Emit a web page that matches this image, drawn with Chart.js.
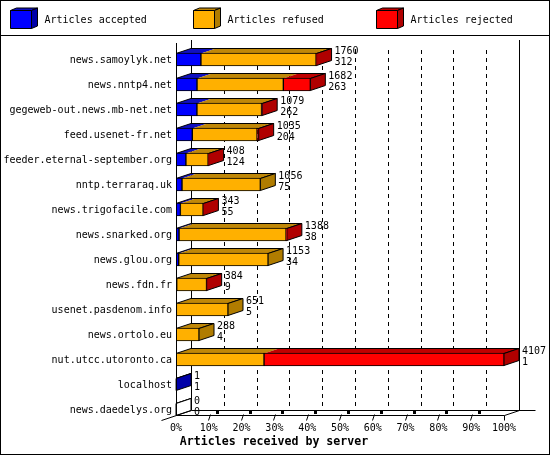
<!DOCTYPE html>
<html>
<head>
<meta charset="utf-8">
<title>Articles received by server</title>
<script src="https://cdn.jsdelivr.net/npm/chart.js"></script>
<style>
  html, body { margin: 0; padding: 0; background: #fff; }
  canvas { display: block; }
</style>
</head>
<body>
<canvas id="chart" width="550" height="455"></canvas>
<script>
const servers = [
  "news.samoylyk.net", "news.nntp4.net", "gegeweb-out.news.mb-net.net", "feed.usenet-fr.net",
  "feeder.eternal-september.org", "nntp.terraraq.uk", "news.trigofacile.com", "news.snarked.org",
  "news.glou.org", "news.fdn.fr", "usenet.pasdenom.info", "news.ortolo.eu",
  "nut.utcc.utoronto.ca", "localhost", "news.daedelys.org"
];
const accepted = [312, 263, 262, 204, 124, 75, 55, 38, 34, 9, 5, 4, 1, 1, 0];
const refused = [1442, 1081, 809, 811, 278, 981, 284, 1340, 1119, 373, 646, 284, 1101, 0, 0];
const rejected = [6, 338, 8, 20, 6, 0, 4, 10, 0, 2, 0, 0, 3005, 0, 0];
const percentLabels = ["0%", "10%", "20%", "30%", "40%", "50%", "60%", "70%", "80%", "90%", "100%"];
const axisMax = 4107;

const seriesNames = ["Articles accepted", "Articles refused", "Articles rejected"];
const front = ["#0000ff", "#ffb000", "#ff0000"];
const top3d = ["#1010c0", "#c08808", "#c00000"];
const side3d = ["#0000a8", "#b07c00", "#b00000"];
const series = [accepted, refused, rejected];

const MONO = '"DejaVu Sans Mono", "Liberation Mono", monospace';
const DX = 15, DY = 5;

function poly(ctx, pts, fill) {
  ctx.beginPath();
  pts.forEach((p, i) => (i ? ctx.lineTo(p[0], p[1]) : ctx.moveTo(p[0], p[1])));
  ctx.closePath();
  if (fill) {
    ctx.fillStyle = fill;
    ctx.fill();
  }
  ctx.stroke();
}

function line(ctx, x0, y0, x1, y1) {
  ctx.beginPath();
  ctx.moveTo(x0, y0);
  ctx.lineTo(x1, y1);
  ctx.stroke();
}

const frame3d = {
  id: "frame3d",
  beforeDraw(chart) {
    const ctx = chart.ctx;
    ctx.save();
    ctx.fillStyle = "#fff";
    ctx.fillRect(0, 0, 550, 455);
    ctx.strokeStyle = "#000";
    ctx.lineWidth = 1;
    ctx.strokeRect(0.5, 0.5, 549, 454);
    line(ctx, 0, 35.5, 550, 35.5);

    // legend cubes
    [11, 194, 377].forEach((x, i) => {
      const yT = 10.5, yB = 28.5, w = 21, dx = 6, dy = 2.5;
      const xa = x - 0.5, xb = xa + w;
      poly(ctx, [[xa, yT], [xa + dx, yT - dy], [xb + dx, yT - dy], [xb, yT]], top3d[i]);
      poly(ctx, [[xb, yT], [xb + dx, yT - dy], [xb + dx, yB - dy], [xb, yB]], side3d[i]);
      poly(ctx, [[xa, yT], [xb, yT], [xb, yB], [xa, yB]], front[i]);
      ctx.fillStyle = "#000";
      ctx.font = "10px " + MONO;
      ctx.textAlign = "left";
      ctx.textBaseline = "middle";
      ctx.fillText(seriesNames[i], x + 33.5, 20.5);
    });

    // x axis title
    ctx.font = "bold 11.6px " + MONO;
    ctx.textAlign = "center";
    ctx.fillStyle = "#000";
    ctx.fillText("Articles received by server", 274, 442);
    ctx.restore();
  },
  beforeDatasetsDraw(chart) {
    const ctx = chart.ctx;
    const x = chart.scales.x, y = chart.scales.y;
    const floorBack = 410.5;
    ctx.save();
    ctx.strokeStyle = "#000";
    ctx.lineWidth = 1;

    // back walls and floor
    const left = Math.round(x.getPixelForValue(0)) + 0.5;
    const right = Math.round(x.getPixelForValue(axisMax)) + 0.5;
    line(ctx, left + DX, 40, left + DX, floorBack);
    line(ctx, right + DX, 40, right + DX, floorBack);
    line(ctx, left + DX, floorBack, right + DX + 16, floorBack);

    // dashed grid on the back wall
    ctx.setLineDash([4, 4]);
    x.ticks.slice(1, -1).forEach((t) => {
      const px = Math.round(x.getPixelForValue(t.value)) + 0.5 + DX;
      line(ctx, px, 50, px, floorBack);
    });
    ctx.setLineDash([]);

    // side and top faces of the bars
    servers.forEach((name, i) => {
      const cy = y.getPixelForTick(i);
      const yT = cy - 6, yB = cy + 6;
      let cum = 0;
      const x0 = x.getPixelForValue(0);
      series.forEach((values, s) => {
        if (!values[i]) return;
        const a = x.getPixelForValue(cum);
        cum += values[i];
        const b = x.getPixelForValue(cum);
        ctx.beginPath();
        ctx.moveTo(a, yT);
        ctx.lineTo(a + DX, yT - DY);
        ctx.lineTo(b + DX, yT - DY);
        ctx.lineTo(b, yT);
        ctx.closePath();
        ctx.fillStyle = top3d[s];
        ctx.fill();
      });
      const end = x.getPixelForValue(cum);
      let last = -1;
      series.forEach((values, s) => { if (values[i]) last = s; });
      poly(ctx, [[x0, yT], [x0 + DX, yT - DY], [end + DX, yT - DY], [end, yT]], null);
      poly(ctx, [[end, yT], [end + DX, yT - DY], [end + DX, yB - DY], [end, yB]], last < 0 ? "#fff" : side3d[last]);
    });
    ctx.restore();
  },
  afterDatasetsDraw(chart) {
    const ctx = chart.ctx;
    const x = chart.scales.x, y = chart.scales.y;
    const floorBack = 410.5, floorFront = 415.5;
    ctx.save();
    ctx.strokeStyle = "#000";
    ctx.fillStyle = "#000";
    ctx.lineWidth = 1;

    const left = Math.round(x.getPixelForValue(0)) + 0.5;
    const right = Math.round(x.getPixelForValue(axisMax)) + 0.5;

    // front axes
    line(ctx, left, 43, left, floorFront);
    line(ctx, left, floorFront, right, floorFront);
    line(ctx, left - DX, floorFront + DY, left + DX, floorBack);
    line(ctx, right, floorFront, right + DX, floorBack);
    line(ctx, right, floorFront, right, floorFront + DY);

    // tick marks and the short floor dashes
    x.ticks.slice(1, -1).forEach((t) => {
      const px = Math.round(x.getPixelForValue(t.value));
      line(ctx, px - 0.5, floorFront + DY, px + 1.5, floorFront - 1);
      ctx.fillRect(px + 7, 411, 3, 3);
    });

    // value labels: total and accepted
    ctx.font = "10px " + MONO;
    ctx.textAlign = "left";
    ctx.textBaseline = "middle";
    servers.forEach((name, i) => {
      const total = accepted[i] + refused[i] + rejected[i];
      const cy = y.getPixelForTick(i);
      const tx = x.getPixelForValue(total) + 18;
      ctx.fillText(String(total), tx, cy - 8.5);
      ctx.fillText(String(accepted[i]), tx, cy + 2.5);
    });
    ctx.restore();
  }
};

new Chart(document.getElementById("chart"), {
  type: "bar",
  data: {
    labels: servers,
    datasets: series.map((values, s) => ({
      label: seriesNames[s],
      data: values,
      backgroundColor: front[s],
      borderColor: "#000",
      borderWidth: 1,
      borderSkipped: false,
      barThickness: 13
    }))
  },
  options: {
    indexAxis: "y",
    responsive: false,
    animation: false,
    devicePixelRatio: 1,
    layout: { padding: { left: 0, right: 46, top: 47, bottom: 0 } },
    plugins: { legend: { display: false }, title: { display: false }, tooltip: { enabled: false } },
    scales: {
      x: {
        stacked: true,
        min: 0,
        max: axisMax,
        grid: { display: false, drawTicks: false },
        border: { display: false },
        afterFit(scale) {
          scale.height = 33;
          scale.paddingLeft = 0;
          scale.paddingRight = 0;
        },
        ticks: {
          stepSize: axisMax / 10,
          autoSkip: false,
          maxRotation: 0,
          padding: 0,
          color: "#000",
          font: { family: MONO, size: 10 },
          callback: (value, index) => percentLabels[index]
        }
      },
      y: {
        stacked: true,
        grid: { display: false, drawTicks: false },
        border: { display: false },
        afterFit(scale) {
          scale.width = 176;
        },
        ticks: {
          autoSkip: false,
          padding: 4,
          labelOffset: 1,
          color: "#000",
          font: { family: MONO, size: 10 }
        }
      }
    }
  },
  plugins: [frame3d]
});
</script>
</body>
</html>
